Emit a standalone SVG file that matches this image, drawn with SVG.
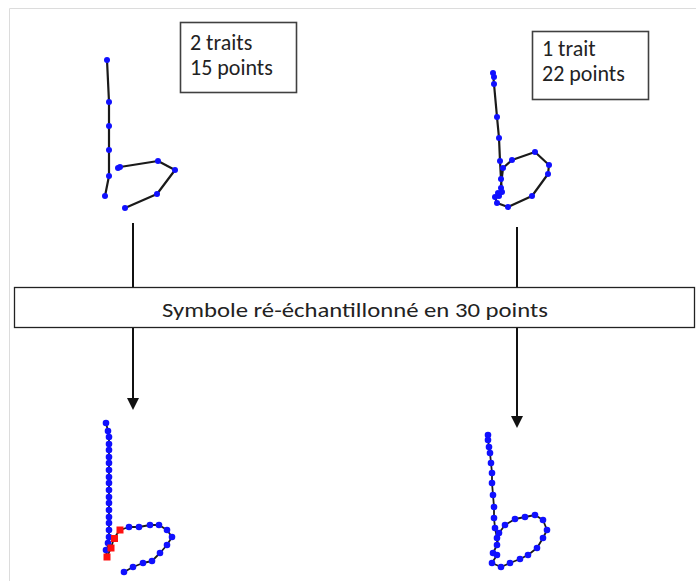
<svg xmlns="http://www.w3.org/2000/svg" width="696" height="581" viewBox="0 0 696 581">
<defs>
<style>
.stroke{fill:none;stroke:#1a1a1a;stroke-width:2.2;stroke-linejoin:round;stroke-linecap:round}
.thin{fill:none;stroke:#1a1a1a;stroke-width:1.8;stroke-linejoin:round}
.dot{fill:#1010ff}
.red{fill:#ff1010}
.box{fill:#fff;stroke:#404040;stroke-width:1.6}
.lbl{font-family:Carlito,"Liberation Sans",sans-serif;font-size:22px;fill:#222}
.mid{font-family:Carlito,"Liberation Sans",sans-serif;font-size:20px;fill:#222}
.conn{stroke:#111;stroke-width:2;fill:none}
.head{fill:#111}
</style>
</defs>
<rect x="0" y="0" width="696" height="581" fill="#fff"/>
<path d="M9.5,581 V8.5 H696" fill="none" stroke="#dcdcdc" stroke-width="1"/>

<g id="connectors">
<line class="conn" x1="133" y1="223" x2="133" y2="288"/>
<line class="conn" x1="133" y1="327" x2="133" y2="400"/>
<polygon class="head" points="127,398 139,398 133,410"/>
<line class="conn" x1="517" y1="227" x2="517" y2="288"/>
<line class="conn" x1="517" y1="327" x2="517" y2="418"/>
<polygon class="head" points="511,416 523,416 517,428"/>
</g>

<g id="symbol-top-left">
<polyline class="stroke" points="107,60 109,102 109,126 109,150 109,176 105,196"/>
<polyline class="stroke" points="118,168 120,167 158,161 175,170 157,194 125,208"/>
<g class="dot">
<circle cx="107" cy="60" r="3"/><circle cx="109" cy="102" r="3"/><circle cx="109" cy="126" r="3"/><circle cx="109" cy="150" r="3"/><circle cx="109" cy="176" r="3"/><circle cx="105" cy="196" r="3"/>
<circle cx="118" cy="168" r="3"/><circle cx="120" cy="167" r="3"/><circle cx="158" cy="161" r="3"/><circle cx="175" cy="170" r="3"/><circle cx="157" cy="194" r="3"/><circle cx="125" cy="208" r="3"/>
</g>
</g>

<g id="label-top-left">
<rect class="box" x="180.5" y="22.5" width="116" height="70"/>
<text class="lbl"><tspan x="190" y="50">2 traits</tspan><tspan x="190" y="75">15 points</tspan></text>
</g>

<g id="symbol-top-right">
<polyline class="stroke" points="493,73 494,84 497,117 499,138 500,161 501,179 502,192 499,196 495,197 497,203 508,207 532,196 548,174 549,165 535,152 512,160 503,168 501,185"/>
<g class="dot">
<circle cx="493" cy="73" r="3"/><circle cx="494" cy="77" r="3"/><circle cx="494" cy="84" r="3"/><circle cx="497" cy="117" r="3"/><circle cx="499" cy="138" r="3"/><circle cx="500" cy="161" r="3"/><circle cx="501" cy="179" r="3"/><circle cx="502" cy="192" r="3"/><circle cx="499" cy="196" r="3"/><circle cx="495" cy="197" r="3"/><circle cx="497" cy="203" r="3"/><circle cx="508" cy="207" r="3"/><circle cx="532" cy="196" r="3"/><circle cx="548" cy="174" r="3"/><circle cx="549" cy="165" r="3"/><circle cx="535" cy="152" r="3"/><circle cx="512" cy="160" r="3"/><circle cx="503" cy="168" r="3"/><circle cx="501" cy="188" r="3"/><circle cx="498" cy="193" r="3"/>
</g>
</g>

<g id="label-top-right">
<rect class="box" x="532.5" y="31.5" width="116" height="68"/>
<text class="lbl"><tspan x="542" y="56">1 trait</tspan><tspan x="542" y="81">22 points</tspan></text>
</g>

<g id="resample-box">
<rect x="14.5" y="287.5" width="680" height="40" fill="#fff" stroke="#222" stroke-width="1.3"/>
<text class="mid" x="355" y="317" text-anchor="middle" textLength="386" lengthAdjust="spacingAndGlyphs">Symbole ré-échantillonné en 30 points</text>
</g>

<g id="symbol-bottom-left">
<polyline class="thin" points="106,423 108,431 109,437 109,543 106,551 107,557 111,548 114,538 120,530 129,527 139,527 150,525 159,525 167,530 172,537 167,545 160,553 152,561 143,563 133,567 124,572"/>
<g class="dot">
<circle cx="106" cy="423" r="3.3"/><circle cx="108" cy="431" r="3.3"/><circle cx="109" cy="437" r="3.3"/><circle cx="109" cy="444" r="3.3"/><circle cx="109" cy="450" r="3.3"/><circle cx="109" cy="457" r="3.3"/><circle cx="109" cy="463" r="3.3"/><circle cx="109" cy="470" r="3.3"/><circle cx="109" cy="477" r="3.3"/><circle cx="109" cy="483" r="3.3"/><circle cx="109" cy="490" r="3.3"/><circle cx="109" cy="497" r="3.3"/><circle cx="109" cy="503" r="3.3"/><circle cx="109" cy="510" r="3.3"/><circle cx="109" cy="517" r="3.3"/><circle cx="109" cy="523" r="3.3"/><circle cx="109" cy="530" r="3.3"/><circle cx="109" cy="537" r="3.3"/><circle cx="108" cy="543" r="3.3"/><circle cx="106" cy="550" r="3.3"/>
<circle cx="129" cy="527" r="3.3"/><circle cx="139" cy="527" r="3.3"/><circle cx="150" cy="525" r="3.3"/><circle cx="159" cy="525" r="3.3"/><circle cx="167" cy="530" r="3.3"/><circle cx="172" cy="537" r="3.3"/><circle cx="167" cy="545" r="3.3"/><circle cx="160" cy="553" r="3.3"/><circle cx="152" cy="561" r="3.3"/><circle cx="143" cy="563" r="3.3"/><circle cx="133" cy="567" r="3.3"/><circle cx="124" cy="572" r="3.3"/>
</g>
<g class="red">
<rect x="103.5" y="553.5" width="7" height="7"/><rect x="107.5" y="544.5" width="7" height="7"/><rect x="111" y="535" width="7" height="7"/><rect x="116.5" y="526.5" width="7" height="7"/>
</g>
</g>

<g id="symbol-bottom-right">
<polyline class="thin" points="488,435 488,440 489,447 490,453 491,463 492,473 492,483 493,495 494,507 494,518 495,528 497,538 497,545 493,553 497,555 492,563 501,567 510,563 520,559 528,555 537,548 543,538 547,530 543,520 535,515 525,517 515,519 505,525 499,533 497,545"/>
<g class="dot">
<circle cx="488" cy="435" r="3.3"/><circle cx="488" cy="440" r="3.3"/><circle cx="489" cy="447" r="3.3"/><circle cx="490" cy="453" r="3.3"/><circle cx="491" cy="463" r="3.3"/><circle cx="492" cy="473" r="3.3"/><circle cx="492" cy="483" r="3.3"/><circle cx="493" cy="495" r="3.3"/><circle cx="494" cy="507" r="3.3"/><circle cx="494" cy="518" r="3.3"/><circle cx="495" cy="528" r="3.3"/><circle cx="497" cy="538" r="3.3"/><circle cx="497" cy="545" r="3.3"/><circle cx="493" cy="553" r="3.3"/><circle cx="497" cy="555" r="3.3"/><circle cx="492" cy="563" r="3.3"/><circle cx="501" cy="567" r="3.3"/><circle cx="510" cy="563" r="3.3"/><circle cx="520" cy="559" r="3.3"/><circle cx="528" cy="555" r="3.3"/><circle cx="537" cy="548" r="3.3"/><circle cx="543" cy="538" r="3.3"/><circle cx="547" cy="530" r="3.3"/><circle cx="543" cy="520" r="3.3"/><circle cx="535" cy="515" r="3.3"/><circle cx="525" cy="517" r="3.3"/><circle cx="515" cy="519" r="3.3"/><circle cx="505" cy="525" r="3.3"/><circle cx="499" cy="533" r="3.3"/>
</g>
</g>
</svg>
